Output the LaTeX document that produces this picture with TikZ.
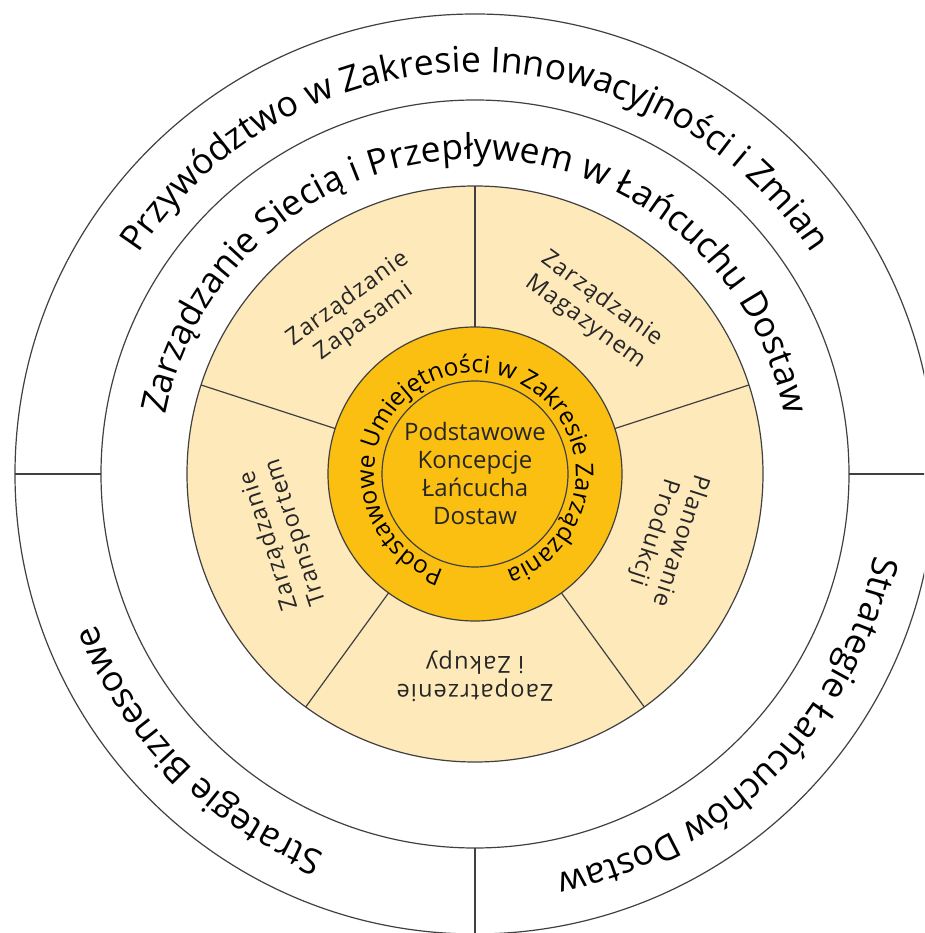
\documentclass[tikz,border=0pt]{standalone}
\usepackage{fontspec}
\setmainfont{Open Sans}
\newfontfamily\pieFamily[LetterSpace=5]{Open Sans}
\usetikzlibrary{decorations.text}
\definecolor{pieCol}{RGB}{254,233,187}
\definecolor{coreCol}{RGB}{251,191,17}
\newcommand{\lineCol}{black!75}
\newcommand{\ringFont}{\fontsize{35.5}{42}\selectfont}
\newcommand{\coreFont}{\fontsize{24.5}{29}\selectfont}
\newcommand{\pieFont}{\pieFamily\fontsize{23.5}{28}\selectfont}

\begin{document}
\begin{tikzpicture}[inner sep=0pt,outer sep=0pt,
		ringline/.style={draw=\lineCol, line width=1.2pt},
		arctext/.style={decorate, decoration={text along path, text align=center, text={|\ringFont|#1}}},
		coretext/.style={decorate, decoration={text along path, text align=center, text={|\coreFont|#1}}},
		pietext/.style={align=center, font=\pieFont, text=black!85}]
	\useasboundingbox (-475pt,-459pt) rectangle (449pt,474pt);
	\clip (-475pt,-459pt) rectangle (449pt,474pt);
	% rings
	\draw[ringline] (0,0) circle[radius=460pt];
	\draw[ringline] (0,0) circle[radius=374pt];
	\draw[ringline, fill=pieCol] (0,0) circle[radius=288pt];
	\draw[ringline, fill=coreCol] (0,0) circle[radius=147pt];
	\draw[ringline] (0,0) circle[radius=93pt];
	\foreach \a in {0,180,270}
		\draw[ringline] (\a:374pt) -- (\a:460pt);
	\foreach \a in {18,90,...,306}
		\draw[ringline] (\a:147pt) -- (\a:288pt);
	% ring labels
	\path[arctext={Przywództwo w Zakresie Innowacyjności i Zmian}] (180:402pt) arc[start angle=180, end angle=0, radius=402pt];
	\path[arctext={Zarządzanie Siecią i Przepływem w Łańcuchu Dostaw}] (180:315pt) arc[start angle=180, end angle=0, radius=315pt];
	\path[arctext={Strategie Biznesowe}] (270:408pt) arc[start angle=270, end angle=180, radius=408pt];
	\path[arctext={Strategie Łańcuchów Dostaw}] (360:408pt) arc[start angle=360, end angle=270, radius=408pt];
	\path[coretext={Podstawowe Umiejętności w Zakresie Zarządzania}] (270:101pt) arc[start angle=270, end angle=-90, radius=101pt];
	% pie segments
	\foreach \a/\lbl [count=\i] in {126/{Zarządzanie\\Zapasami}, 54/{Zarządzanie\\Magazynem}, -18/{Planowanie\\Produkcji}, -90/{Zaopatrzenie\\i Zakupy}, -162/{Zarządzanie\\Transportem}}
		\node[pietext, rotate=\a-90] (seg\i) at (\a:202pt) {\lbl};
	\node[pietext, font=\fontsize{24}{28}\selectfont] (core) at (0,0) {Podstawowe\\Koncepcje\\Łańcucha\\Dostaw};
\end{tikzpicture}
\end{document}
